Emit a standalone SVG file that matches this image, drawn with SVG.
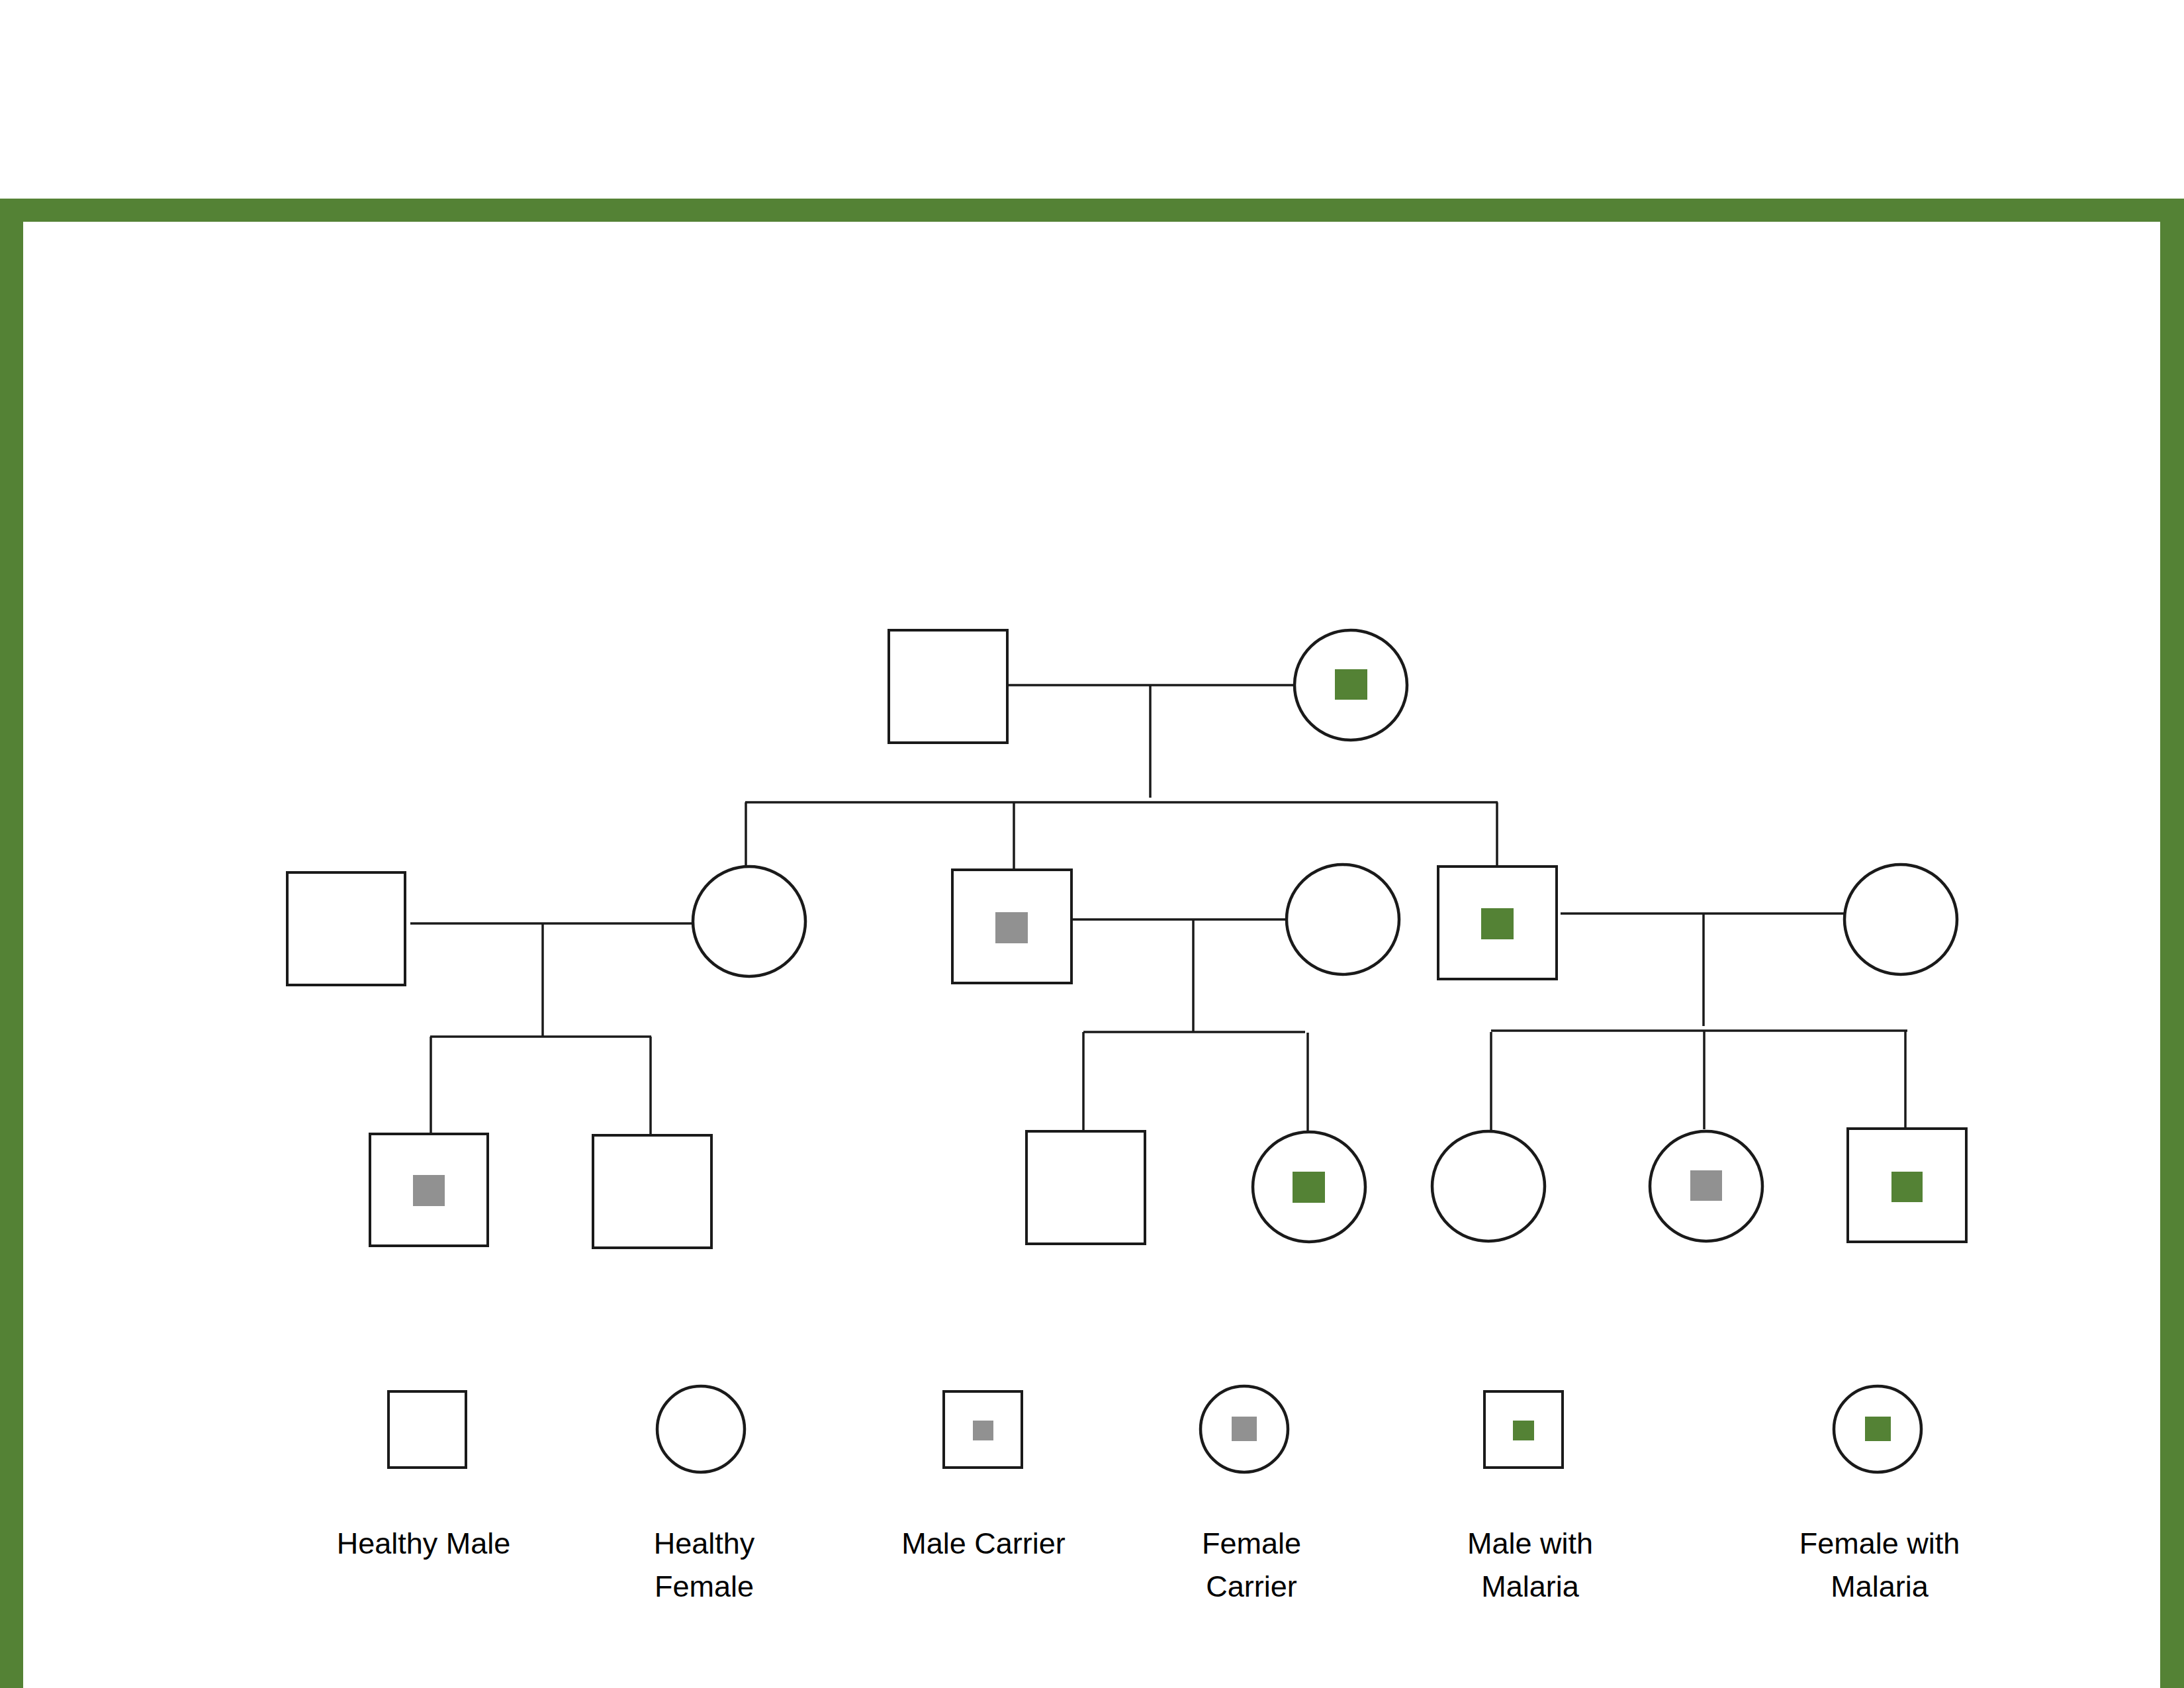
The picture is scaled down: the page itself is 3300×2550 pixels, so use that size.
<svg xmlns="http://www.w3.org/2000/svg" width="3300" height="2550" viewBox="0 0 3300 2550">
<style>
.sq{fill:#fff;stroke:#1a1a1a;stroke-width:4}
.ci{fill:#fff;stroke:#1a1a1a;stroke-width:4.5}
.ln{stroke:#1a1a1a;stroke-width:3.5;fill:none}
.gr{fill:#548235}
.gy{fill:#919191}
.lbl{font-family:"Liberation Sans",Arial,sans-serif;font-size:45px;fill:#000;text-anchor:middle}
</style>
<rect x="0" y="0" width="3300" height="2550" fill="#fff"/>
<g id="border" fill="#548235">
<rect x="0" y="300" width="3300" height="35"/>
<rect x="0" y="300" width="35" height="2250"/>
<rect x="3264" y="300" width="36" height="2250"/>
</g>
<g id="connectors" class="ln">
<line x1="1522" y1="1035" x2="1955" y2="1035"/>
<line x1="1738" y1="1035" x2="1738" y2="1205"/>
<line x1="1126" y1="1212" x2="2263" y2="1212"/>
<line x1="1127" y1="1212" x2="1127" y2="1308"/>
<line x1="1532" y1="1212" x2="1532" y2="1313"/>
<line x1="2262" y1="1212" x2="2262" y2="1309"/>
<line x1="620" y1="1395" x2="1047" y2="1395"/>
<line x1="820" y1="1395" x2="820" y2="1566"/>
<line x1="650" y1="1566" x2="984" y2="1566"/>
<line x1="651" y1="1566" x2="651" y2="1713"/>
<line x1="983" y1="1566" x2="983" y2="1715"/>
<line x1="1621" y1="1389" x2="1945" y2="1389"/>
<line x1="1803" y1="1389" x2="1803" y2="1559"/>
<line x1="1637" y1="1559" x2="1972" y2="1559"/>
<line x1="1637" y1="1559" x2="1637" y2="1709"/>
<line x1="1976" y1="1560" x2="1976" y2="1709"/>
<line x1="2358" y1="1380" x2="2787" y2="1380"/>
<line x1="2574" y1="1380" x2="2574" y2="1550"/>
<line x1="2253" y1="1557" x2="2882" y2="1557"/>
<line x1="2253" y1="1559" x2="2253" y2="1708"/>
<line x1="2575" y1="1557" x2="2575" y2="1706"/>
<line x1="2879" y1="1557" x2="2879" y2="1706"/>
</g>
<g id="grandfather"><rect class="sq" x="1343" y="952" width="179" height="170"/></g>
<g id="grandmother"><ellipse class="ci" cx="2041" cy="1035" rx="85" ry="83"/><rect class="gr" x="2017" y="1011" width="49" height="46"/></g>
<g id="son-in-law"><rect class="sq" x="434" y="1318" width="178" height="170"/></g>
<g id="daughter"><ellipse class="ci" cx="1132" cy="1392" rx="85" ry="83"/></g>
<g id="carrier-son"><rect class="sq" x="1439" y="1314" width="180" height="171"/><rect class="gy" x="1504" y="1378" width="49" height="47"/></g>
<g id="carrier-son-wife"><ellipse class="ci" cx="2029" cy="1389" rx="85" ry="83"/></g>
<g id="malaria-son"><rect class="sq" x="2173" y="1309" width="179" height="170"/><rect class="gr" x="2238" y="1372" width="49" height="47"/></g>
<g id="malaria-son-wife"><ellipse class="ci" cx="2872" cy="1389" rx="85" ry="83"/></g>
<g id="grandson1"><rect class="sq" x="559" y="1713" width="178" height="169"/><rect class="gy" x="624" y="1775" width="48" height="47"/></g>
<g id="grandson2"><rect class="sq" x="896" y="1715" width="179" height="170"/></g>
<g id="grandson3"><rect class="sq" x="1551" y="1709" width="179" height="170"/></g>
<g id="granddaughter1"><ellipse class="ci" cx="1978" cy="1793" rx="85" ry="83"/><rect class="gr" x="1953" y="1770" width="49" height="47"/></g>
<g id="granddaughter2"><ellipse class="ci" cx="2249" cy="1792" rx="85" ry="83"/></g>
<g id="granddaughter3"><ellipse class="ci" cx="2578" cy="1792" rx="85" ry="83"/><rect class="gy" x="2554" y="1768" width="48" height="46"/></g>
<g id="grandson4"><rect class="sq" x="2792" y="1705" width="179" height="171"/><rect class="gr" x="2858" y="1770" width="47" height="46"/></g>
<g id="legend-healthy-male"><rect class="sq" x="587" y="2102" width="117" height="115"/><text class="lbl" x="640" y="2347">Healthy Male</text></g>
<g id="legend-healthy-female"><ellipse class="ci" cx="1059" cy="2159" rx="66" ry="65"/><text class="lbl" x="1064" y="2347">Healthy</text><text class="lbl" x="1064" y="2412">Female</text></g>
<g id="legend-male-carrier"><rect class="sq" x="1426" y="2102" width="118" height="115"/><rect class="gy" x="1470" y="2146" width="31" height="30"/><text class="lbl" x="1486" y="2347">Male Carrier</text></g>
<g id="legend-female-carrier"><ellipse class="ci" cx="1880" cy="2159" rx="66" ry="65"/><rect class="gy" x="1861" y="2140" width="38" height="37"/><text class="lbl" x="1891" y="2347">Female</text><text class="lbl" x="1891" y="2412">Carrier</text></g>
<g id="legend-male-malaria"><rect class="sq" x="2243" y="2102" width="118" height="115"/><rect class="gr" x="2286" y="2146" width="32" height="30"/><text class="lbl" x="2312" y="2347">Male with</text><text class="lbl" x="2312" y="2412">Malaria</text></g>
<g id="legend-female-malaria"><ellipse class="ci" cx="2837" cy="2159" rx="66" ry="65"/><rect class="gr" x="2818" y="2140" width="39" height="37"/><text class="lbl" x="2840" y="2347">Female with</text><text class="lbl" x="2840" y="2412">Malaria</text></g>
</svg>
